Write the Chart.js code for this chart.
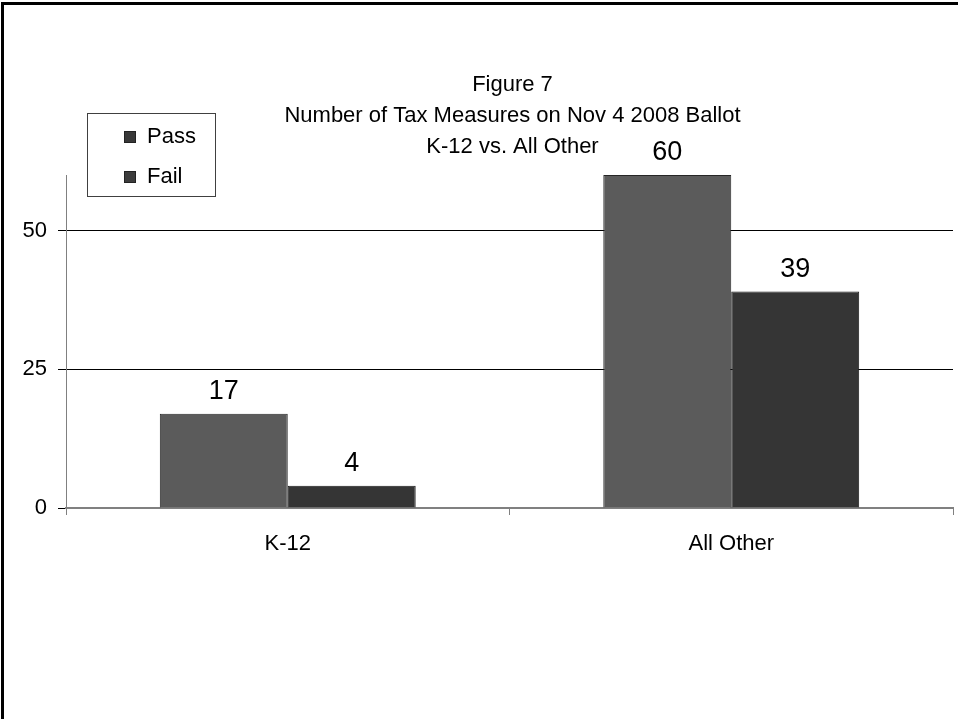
<!DOCTYPE html>
<html>
<head>
<meta charset="utf-8">
<script src="https://cdn.jsdelivr.net/npm/chart.js@4"></script>
<style>
  html, body { margin: 0; padding: 0; background: #fff; }
  canvas { display: block; }
</style>
</head>
<body>
<canvas id="chart" width="958" height="719"></canvas>
<script>
// Ballot results by measure type
const categories = ['K-12', 'All Other'];
const passCounts = [17, 60];
const failCounts = [4, 39];
const yTicks = [0, 25, 50];
const titleLines = ['Figure 7', 'Number of Tax Measures on Nov 4 2008 Ballot', 'K-12 vs. All Other'];

const FONT = '"Liberation Sans", Arial, sans-serif';

// White page with a heavy frame on the top and left edges
const framePlugin = {
  id: 'frame',
  beforeDraw(chart) {
    const ctx = chart.ctx;
    ctx.save();
    ctx.fillStyle = '#fff';
    ctx.fillRect(0, 0, chart.width, chart.height);
    ctx.fillStyle = '#000';
    ctx.fillRect(1, 2, chart.width - 1, 3);
    ctx.fillRect(1, 2, 3, chart.height - 2);
    ctx.restore();
  }
};

// Three-line heading centred over the plot
const headingPlugin = {
  id: 'heading',
  afterDraw(chart) {
    const ctx = chart.ctx;
    const cx = (chart.chartArea.left + chart.chartArea.right) / 2 + 3;
    ctx.save();
    ctx.font = '22px ' + FONT;
    ctx.fillStyle = '#000';
    ctx.textAlign = 'center';
    ctx.textBaseline = 'middle';
    titleLines.forEach((line, i) => ctx.fillText(line, cx, 85 + i * 31));
    ctx.restore();
  }
};

// Boxed legend in the upper-left corner
const legendBoxPlugin = {
  id: 'legendBox',
  afterDraw(chart) {
    const ctx = chart.ctx;
    const box = { x: 87.5, y: 113.5, w: 128, h: 83 };
    ctx.save();
    ctx.fillStyle = '#fff';
    ctx.fillRect(box.x, box.y, box.w, box.h);
    ctx.strokeStyle = '#404040';
    ctx.lineWidth = 1;
    ctx.strokeRect(box.x, box.y, box.w, box.h);
    ctx.font = '22px ' + FONT;
    ctx.textBaseline = 'middle';
    ctx.textAlign = 'left';
    chart.data.datasets.forEach((ds, i) => {
      const cy = 137 + i * 40;
      ctx.fillStyle = ds.swatchColor;
      ctx.fillRect(124, cy - 6, 12, 12);
      ctx.strokeStyle = '#222';
      ctx.strokeRect(124.5, cy - 5.5, 11, 11);
      ctx.fillStyle = '#000';
      ctx.fillText(ds.label, 147, cy);
    });
    ctx.restore();
  }
};

// Value printed above each column
const valueLabelPlugin = {
  id: 'valueLabels',
  afterDatasetsDraw(chart) {
    const ctx = chart.ctx;
    ctx.save();
    ctx.font = '27px ' + FONT;
    ctx.fillStyle = '#000';
    ctx.textAlign = 'center';
    ctx.textBaseline = 'alphabetic';
    chart.data.datasets.forEach((ds, di) => {
      chart.getDatasetMeta(di).data.forEach((bar, i) => {
        ctx.fillText(String(ds.data[i]), bar.x, bar.y - 15);
      });
    });
    ctx.restore();
  }
};

new Chart(document.getElementById('chart'), {
  type: 'bar',
  data: {
    labels: categories,
    datasets: [
      {
        label: 'Pass',
        data: passCounts,
        backgroundColor: '#5b5b5b',
        borderColor: '#262626',
        borderWidth: 1,
        swatchColor: '#383838'
      },
      {
        label: 'Fail',
        data: failCounts,
        backgroundColor: '#353535',
        borderColor: '#1a1a1a',
        borderWidth: 1,
        swatchColor: '#3c3c3c'
      }
    ]
  },
  options: {
    responsive: false,
    animation: false,
    devicePixelRatio: 1,
    layout: { padding: { top: 175, right: 5, left: 0, bottom: 0 } },
    datasets: {
      bar: { categoryPercentage: 0.577, barPercentage: 1.0 }
    },
    plugins: {
      legend: { display: false },
      title: { display: false },
      tooltip: { enabled: false }
    },
    scales: {
      x: {
        afterFit(scale) { scale.height = 211; },
        grid: {
          offset: true,
          drawOnChartArea: false,
          drawTicks: true,
          tickLength: 7,
          color: '#808080',
          lineWidth: 1
        },
        border: { display: true, color: '#808080', width: 2 },
        ticks: {
          color: '#000',
          font: { family: FONT, size: 22 },
          padding: 16
        }
      },
      y: {
        min: 0,
        max: 60,
        afterFit(scale) { scale.width = 66; },
        afterBuildTicks(scale) {
          scale.ticks = yTicks.map(v => ({ value: v }));
        },
        grid: {
          drawTicks: true,
          tickLength: 8,
          color: ctx => (ctx.tick && ctx.tick.value === 0 ? '#808080' : '#000'),
          tickColor: '#000',
          lineWidth: 1
        },
        border: { display: true, color: '#808080', width: 1 },
        ticks: {
          color: '#000',
          font: { family: FONT, size: 22 },
          padding: 11
        }
      }
    }
  },
  plugins: [framePlugin, headingPlugin, legendBoxPlugin, valueLabelPlugin]
});
</script>
</body>
</html>
